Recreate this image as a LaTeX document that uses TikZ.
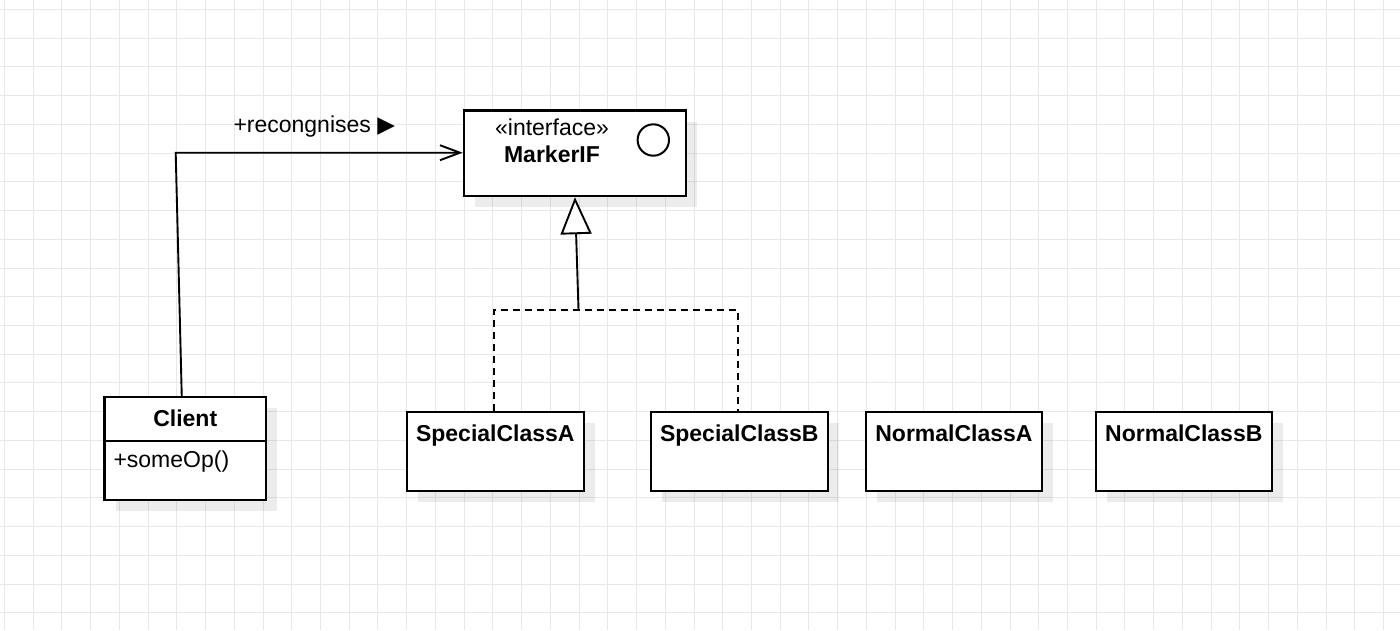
\documentclass[tikz,border=0pt]{standalone}
\usepackage{fontspec}
\setmainfont{Liberation Sans}
\newfontfamily\symfont{DejaVu Sans}
\usetikzlibrary{arrows.meta,calc}
\definecolor{gridc}{HTML}{E8E8E8}
\begin{document}
\begin{tikzpicture}[x=1pt,y=-1pt,
  box/.style={draw=black, line width=2.2pt, fill=white, inner sep=0pt, anchor=north west},
  shadowbox/.style={fill=black, fill opacity=0.075, draw=none, inner sep=0pt, anchor=north west},
  lbl/.style={font=\fontsize{23}{27}\selectfont, inner sep=0pt, anchor=base},
  title/.style={font=\fontsize{23}{27}\selectfont\bfseries, inner sep=0pt, anchor=base},
  conn/.style={line width=1.9pt},
  dashconn/.style={line width=1.9pt, dash pattern=on 7pt off 5pt},
  ]
\useasboundingbox (0,0) rectangle (1400,630);
\fill[white] (0,0) rectangle (1400,630);
% grid (snapped to pixel centres)
\foreach \i in {0,...,48} {
  \pgfmathsetmacro{\gx}{round(4+28.73*\i)+0.5}
  \draw[gridc, line width=1.1pt] (\gx,0) -- (\gx,630);
}
\foreach \i in {0,...,21} {
  \pgfmathsetmacro{\gy}{round(9+28.73*\i)+0.5}
  \draw[gridc, line width=1.1pt] (0,\gy) -- (1400,\gy);
}

% shadows
\node[shadowbox, minimum width=222.3pt, minimum height=85.7pt] (marker-sh) at (474.7,121.3) {};
\node[shadowbox, minimum width=161.7pt, minimum height=103pt] (client-sh) at (115.3,408) {};
\node[shadowbox, minimum width=177pt, minimum height=79.3pt] (sa-sh) at (417.7,422.7) {};
\node[shadowbox, minimum width=177pt, minimum height=79.3pt] (sb-sh) at (661.7,422.7) {};
\node[shadowbox, minimum width=176.3pt, minimum height=79pt] (na-sh) at (876.7,422.7) {};
\node[shadowbox, minimum width=176pt, minimum height=79pt] (nb-sh) at (1106.7,422.7) {};

% boxes
\node[box, minimum width=222.3pt, minimum height=85.7pt] (marker) at (462.7,109.3) {};
\node[box, minimum width=161.7pt, minimum height=103pt] (client) at (103.3,396) {};
\node[box, minimum width=177pt, minimum height=79.3pt] (sa) at (405.7,410.7) {};
\node[box, minimum width=177pt, minimum height=79.3pt] (sb) at (649.7,410.7) {};
\node[box, minimum width=176.3pt, minimum height=79pt] (na) at (864.7,410.7) {};
\node[box, minimum width=176pt, minimum height=79pt] (nb) at (1094.7,410.7) {};

% marker content
\node[lbl] (marker-st) at (552,135) {«interface»};
\node[title] (marker-t) at (552,162.7) {MarkerIF};
\node[draw, circle, line width=2pt, minimum size=31.4pt, inner sep=0pt] (marker-ic) at (653.3,140) {};

% client content
\node[title] (client-t) at ($(client.north)+(0,30)$) {Client};
\draw[line width=2pt] ($(client.north west)+(0,45.3)$) -- ($(client.north east)+(0,45.3)$);
\node[lbl, anchor=base west] (client-op) at (113.3,467.5) {+someOp()};

% class titles
\node[title] (sa-t) at ($(sa.north)+(0,31)$) {SpecialClassA};
\node[title] (sb-t) at ($(sb.north)+(0,31)$) {SpecialClassB};
\node[title] (na-t) at ($(na.north)+(0,31)$) {NormalClassA};
\node[title] (nb-t) at ($(nb.north)+(0,31)$) {NormalClassB};

% association
\coordinate (bend) at (175.7,152.7);
\draw[conn, -{Straight Barb[length=20pt,width=15pt]}] ($(client.north)+(-3.5,0)$) -- (bend) -- (bend -| marker.west);
\node[lbl, anchor=base west] (rec) at (233.3,132.3) {+recongnises {\symfont ▶}};

% realization
\coordinate (j) at (578.5,309.7);
\draw[conn, -{Triangle[fill=white, length=37pt, width=31pt]}] (j) -- (marker.south);
\draw[dashconn] ($(sa.north)+(-1,0)$) |- (j) -| ($(sb.north)+(-1,0)$);
\end{tikzpicture}
\end{document}
